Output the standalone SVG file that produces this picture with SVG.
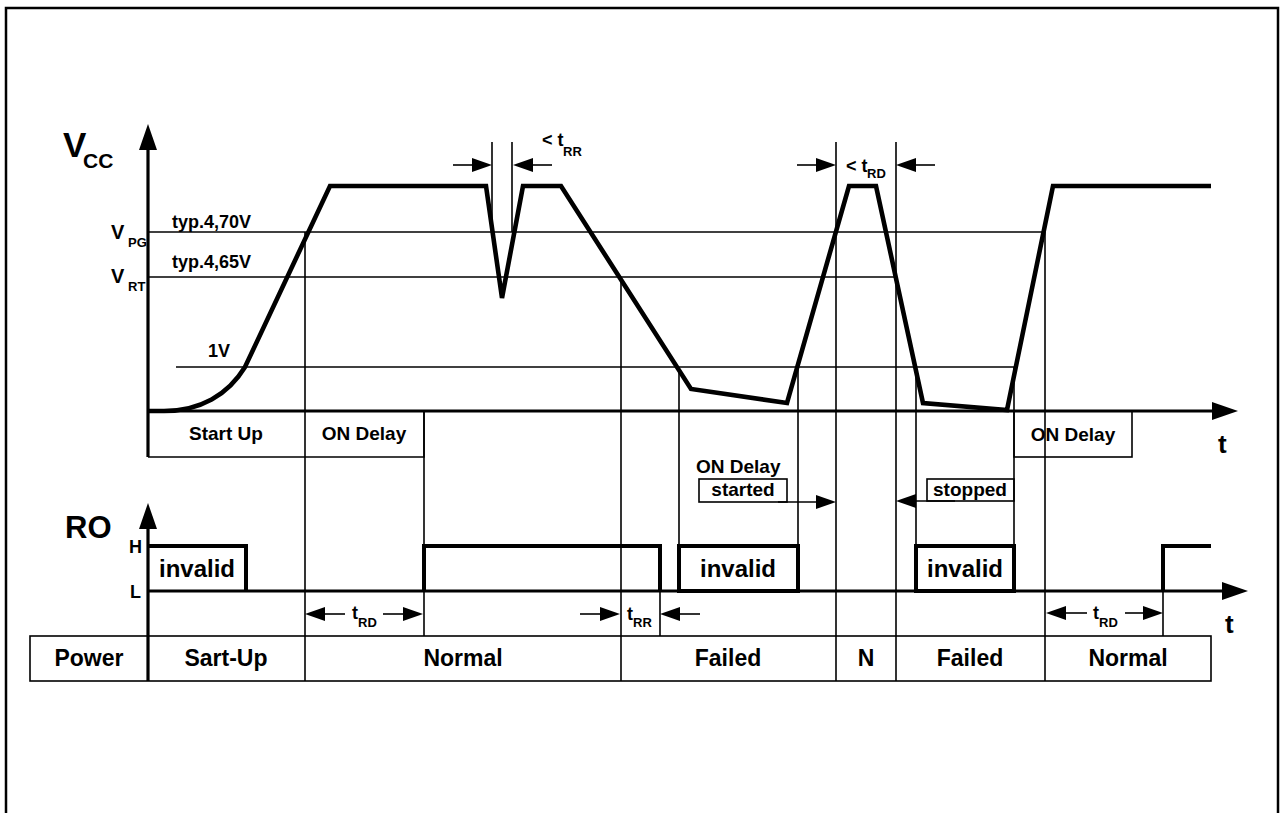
<svg xmlns="http://www.w3.org/2000/svg" width="1284" height="813" viewBox="0 0 1284 813">
<style>
.frame{fill:none;stroke:#000;stroke-width:2.5}
.thin{fill:none;stroke:#000;stroke-width:1.6}
.axis{fill:none;stroke:#000;stroke-width:3.2}
.wave{fill:none;stroke:#000;stroke-width:4.6;stroke-linejoin:miter}
.ro{fill:none;stroke:#000;stroke-width:4;stroke-linejoin:miter}
.box{fill:none;stroke:#000;stroke-width:1.6}
text{font-family:"Liberation Sans",Arial,sans-serif;font-weight:bold;fill:#000}
.s18{font-size:18px}
.s19{font-size:19px}
.s13{font-size:13px}
.s23{font-size:23px}
.s24{font-size:24px}
.vl{font-size:20px}
.mid{text-anchor:middle}
.dim{fill:none;stroke:#000;stroke-width:1.6}
</style>
<defs>
<marker id="ah" markerUnits="userSpaceOnUse" markerWidth="20" markerHeight="14" viewBox="0 0 20 14" refX="1" refY="7" orient="auto">
<path d="M0,0 L20,7 L0,14 Z" fill="#000"/>
</marker>
<marker id="axh" markerUnits="userSpaceOnUse" markerWidth="26" markerHeight="18" viewBox="0 0 26 18" refX="1" refY="9" orient="auto">
<path d="M0,0 L26,9 L0,18 Z" fill="#000"/>
</marker>
</defs>

<rect class="frame" x="6" y="8" width="1272" height="820"/>

<g id="grid">
<line class="thin" x1="148" y1="232" x2="1045" y2="232"/>
<line class="thin" x1="148" y1="277" x2="896" y2="277"/>
<line class="thin" x1="176" y1="367" x2="1014" y2="367"/>
<line class="thin" x1="305" y1="232" x2="305" y2="681"/>
<line class="thin" x1="424" y1="411" x2="424" y2="636"/>
<line class="thin" x1="492" y1="142" x2="492" y2="232"/>
<line class="thin" x1="512" y1="142" x2="512" y2="232"/>
<line class="thin" x1="621" y1="277" x2="621" y2="681"/>
<line class="thin" x1="660" y1="591" x2="660" y2="636"/>
<line class="thin" x1="679" y1="367" x2="679" y2="546"/>
<line class="thin" x1="798" y1="367" x2="798" y2="546"/>
<line class="thin" x1="836" y1="142" x2="836" y2="681"/>
<line class="thin" x1="896" y1="142" x2="896" y2="681"/>
<line class="thin" x1="916" y1="367" x2="916" y2="546"/>
<line class="thin" x1="1014" y1="367" x2="1014" y2="546"/>
<line class="thin" x1="1045" y1="232" x2="1045" y2="681"/>
<line class="thin" x1="1163" y1="591" x2="1163" y2="636"/>
</g>

<g id="vcc-axis">
<line class="axis" x1="148" y1="457" x2="148" y2="149" marker-end="url(#axh)"/>
<line class="axis" x1="148" y1="411" x2="1213" y2="411" marker-end="url(#axh)"/>
<text x="63" y="157" style="font-size:35px">V</text>
<text x="83" y="168" style="font-size:21px">CC</text>
<text class="vl" x="111" y="239">V</text>
<text class="s13" x="128" y="247">PG</text>
<text class="vl" x="111" y="283">V</text>
<text class="s13" x="128" y="291">RT</text>
<text class="s18" x="172" y="228">typ.4,70V</text>
<text class="s18" x="172" y="268">typ.4,65V</text>
<text class="s18" x="208" y="357">1V</text>
<text x="1218" y="453" style="font-size:26px">t</text>
</g>

<g id="vcc-wave">
<path class="wave" d="M148,411 L164,411 C200,411 228,395 245,367 L330,186 L486,186 L502,298 L523,186 L561,186 L691,389 L787,403 L849,186 L876,186 L923,403 L1007,410 L1053,186 L1211,186"/>
</g>

<g id="vcc-boxes">
<path class="box" d="M148,457 H424 V411"/>
<text class="s19 mid" x="226" y="440">Start Up</text>
<text class="s19 mid" x="364" y="440">ON Delay</text>
<rect class="box" x="1014" y="411" width="118" height="46"/>
<text class="s19 mid" x="1073" y="441">ON Delay</text>
</g>

<g id="dim-trr-top">
<line class="dim" x1="453" y1="165" x2="473" y2="165" marker-end="url(#ah)"/>
<line class="dim" x1="552" y1="165" x2="532" y2="165" marker-end="url(#ah)"/>
<text class="s18" x="542" y="146">&lt; t</text>
<text class="s13" x="563" y="156">RR</text>
</g>

<g id="dim-trd-top">
<line class="dim" x1="797" y1="165" x2="817" y2="165" marker-end="url(#ah)"/>
<line class="dim" x1="935" y1="165" x2="915" y2="165" marker-end="url(#ah)"/>
<text class="s18" x="846" y="172">&lt; t</text>
<text class="s13" x="867" y="178">RD</text>
</g>

<g id="on-delay-started">
<text class="s19" x="696" y="473">ON Delay</text>
<rect class="box" x="699" y="479" width="88" height="23"/>
<text class="s19 mid" x="743" y="496">started</text>
<line class="dim" x1="778" y1="502" x2="817" y2="502" marker-end="url(#ah)"/>
</g>

<g id="on-delay-stopped">
<rect class="box" x="927" y="479" width="87" height="22"/>
<text class="s19 mid" x="970" y="496">stopped</text>
<line class="dim" x1="955" y1="501" x2="915" y2="501" marker-end="url(#ah)"/>
</g>

<g id="ro-axis">
<line class="axis" x1="148" y1="681" x2="148" y2="528" marker-end="url(#axh)"/>
<line class="axis" x1="148" y1="591" x2="1223" y2="591" marker-end="url(#axh)"/>
<text x="65" y="538" style="font-size:31px">RO</text>
<text class="s18" x="129" y="553">H</text>
<text class="s18" x="130" y="598">L</text>
<text x="1225" y="633" style="font-size:26px">t</text>
</g>

<g id="ro-wave">
<path class="ro" d="M148,546 H246 V591"/>
<path class="ro" d="M424,591 V546 H660 V591"/>
<rect class="ro" x="679" y="546" width="119" height="45"/>
<rect class="ro" x="916" y="546" width="98" height="45"/>
<path class="ro" d="M1163,591 V546 H1211"/>
<text class="s24 mid" x="197" y="577">invalid</text>
<text class="s24 mid" x="738" y="577">invalid</text>
<text class="s24 mid" x="965" y="577">invalid</text>
</g>

<g id="dim-ro">
<line class="dim" x1="345" y1="614" x2="324" y2="614" marker-end="url(#ah)"/>
<line class="dim" x1="383" y1="614" x2="404" y2="614" marker-end="url(#ah)"/>
<text class="s18" x="352" y="619">t</text>
<text class="s13" x="358" y="627">RD</text>
<line class="dim" x1="580" y1="614" x2="601" y2="614" marker-end="url(#ah)"/>
<line class="dim" x1="700" y1="614" x2="679" y2="614" marker-end="url(#ah)"/>
<text class="s18" x="627" y="620">t</text>
<text class="s13" x="633" y="627">RR</text>
<line class="dim" x1="1087" y1="613" x2="1065" y2="613" marker-end="url(#ah)"/>
<line class="dim" x1="1125" y1="613" x2="1144" y2="613" marker-end="url(#ah)"/>
<text class="s18" x="1093" y="619">t</text>
<text class="s13" x="1099" y="627">RD</text>
</g>

<g id="power-table">
<rect class="box" x="30" y="636" width="1181" height="45"/>
<text class="s23 mid" x="89" y="666">Power</text>
<text class="s23 mid" x="226" y="666">Sart-Up</text>
<text class="s23 mid" x="463" y="666">Normal</text>
<text class="s23 mid" x="728" y="666">Failed</text>
<text class="s23 mid" x="866" y="666">N</text>
<text class="s23 mid" x="970" y="666">Failed</text>
<text class="s23 mid" x="1128" y="666">Normal</text>
</g>
</svg>
